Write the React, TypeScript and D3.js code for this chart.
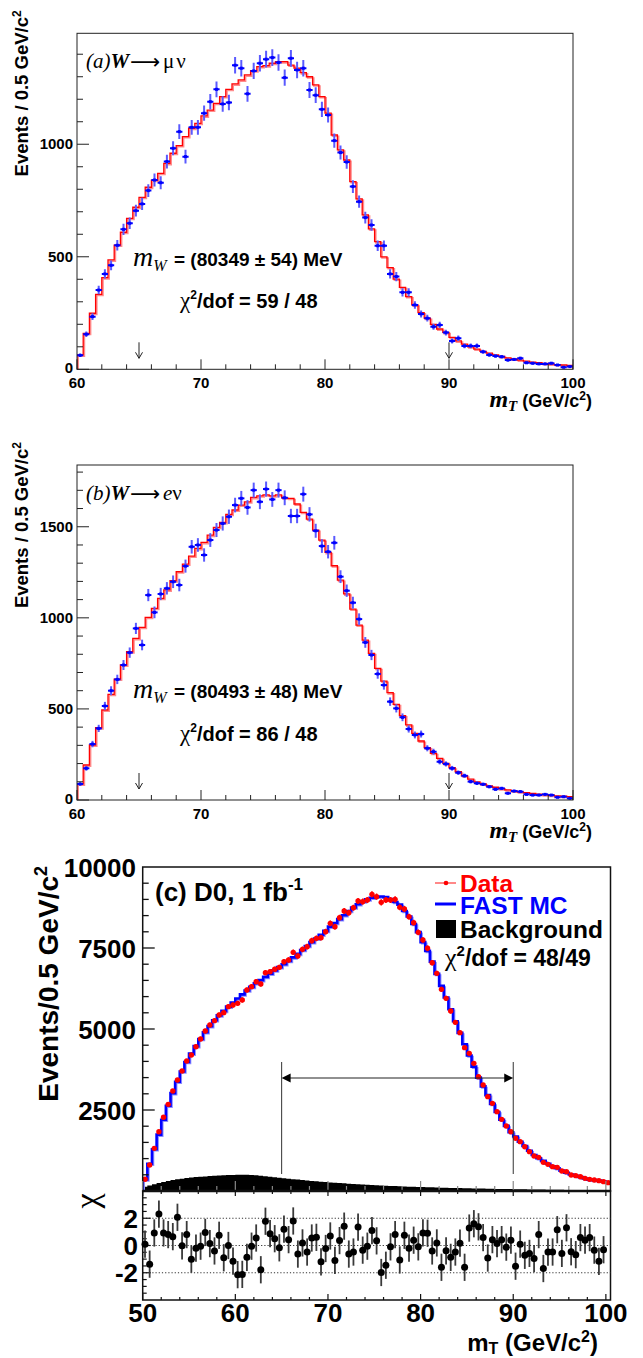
import React from 'react';
import * as d3 from 'd3';

// ---------------- data ----------------
// panels (a),(b): 0.5 GeV bins from 60 to 100
const binStartAB = 60;
const binStartC = 50;
const binWidth = 0.5;

const dataA = [62,156,234,352,424,462,551,622,649,705,
  735,794,841,829,923,982,1056,945,1075,1075,
  1138,1189,1244,1179,1185,1351,1338,1224,1326,1360,
  1378,1385,1363,1296,1382,1330,1338,1241,1218,1155,
  1130,1016,963,921,812,745,674,641,549,549,
  424,412,342,342,286,246,227,189,197,163,
  126,138,104,104,104,78,64,59,56,41,
  44,49,29,27,24,24,27,19,9,12];
const mcA = [64,160,249,333,407,486,552,609,671,720,
  764,809,840,871,915,960,994,1034,1071,1093,
  1126,1152,1182,1212,1244,1268,1286,1308,1327,1345,
  1349,1360,1367,1367,1352,1338,1318,1300,1264,1212,
  1138,1041,975,930,834,757,686,624,567,500,
  452,401,364,323,286,252,227,200,179,164,
  142,126,112,100,90,80,72,64,57,51,
  46,41,36,32,29,26,23,21,19,17];

const dataB = [88,174,307,393,516,600,662,741,809,942,
  851,1125,1030,1131,1162,1198,1180,1284,1390,1400,
  1345,1427,1482,1518,1555,1619,1656,1606,1701,1637,
  1707,1650,1701,1659,1559,1559,1679,1568,1478,1394,
  1363,1412,1226,1149,1083,993,865,796,692,631,
  540,503,454,390,357,362,284,265,210,198,
  174,150,133,101,92,86,73,59,64,37,
  49,46,31,27,27,31,27,15,18,9];
const mcB = [88,192,302,397,494,580,664,741,814,887,
  948,1003,1052,1107,1153,1204,1253,1295,1339,1381,
  1414,1454,1497,1524,1568,1592,1619,1637,1661,1670,
  1675,1670,1675,1659,1656,1625,1579,1542,1482,1427,
  1359,1286,1207,1131,1048,960,878,805,723,653,
  589,525,463,412,366,324,287,256,229,201,
  177,155,133,115,100,88,78,70,62,56,
  50,45,40,36,32,29,26,23,21,19];

// panel (c): 0.5 GeV bins from 50 to 100.5
const dataC = [361,802,1317,1830,2274,2675,3086,3426,3704,4012,
  4198,4454,4691,4938,5123,5257,5432,5504,5690,5741,
  5792,5895,6204,6307,6461,6389,6739,6770,6842,6903,
  7078,7130,7366,7253,7459,7541,7726,7798,7819,8004,
  8261,8158,8436,8642,8591,8745,8951,8930,8981,9156,
  9085,8909,8981,8981,9002,8755,8704,8467,8282,7983,
  7747,7490,7047,6718,6224,5946,5556,5206,4887,4424,
  4249,3940,3529,3272,2912,2706,2449,2212,2006,1831,
  1626,1523,1368,1214,1080,1039,885,823,751,730,
  617,597,494,473,442,391,360,340,319,288,
  257];
const mcC = [360,840,1290,1740,2200,2630,3020,3370,3690,3980,
  4240,4470,4690,4900,5090,5270,5420,5560,5690,
  5820,5940,6070,6190,6300,6410,6510,6610,6710,6810,6910,7000,7100,7210,7320,7440,7560,7680,7790,7910,
  8030,8160,8270,8390,8510,8640,8750,8850,8940,9000,9050,9080,9090,9070,9010,8920,
  8840,8640,8470,8240,7990,7680,7410,7080,6700,6330,5970,5610,5240,
  4880,4530,4180,3840,3500,3230,2960,2690,2440,2200,2010,1815,
  1680,1520,1390,1240,1110,1010,930,840,765,700,630,565,510,470,430,385,352,340,322,295,268];
const bgC = [130,170,210,250,280,310,340,360,380,400,
  415,430,440,450,460,470,478,485,490,495,
  500,500,498,492,484,470,455,440,425,410,
  395,380,366,352,338,325,312,300,288,276,
  265,255,245,236,227,218,210,202,194,186,
  178,171,164,158,152,146,140,135,130,125,
  120,116,112,108,104,100,96,92,89,86,
  83,80,77,74,71,68,65,62,60,58,
  56,54,52,50,48,46,44,42,40,38,
  36,34,32,31,30,29,28,27,26,25,
  24];
const chiC = [0.1,-1.37,0.92,2.31,0.92,0.8,0.65,2.07,-0.02,0.8,
  -1.0,-0.2,-0.05,0.96,0.14,-0.4,0.75,-0.9,0,-1.15,
  -2.14,-2.12,-0.87,-0.05,0.55,-1.78,1.78,0.87,0.5,-0.17,
  1.2,0.43,1.8,-0.63,0.19,-0.48,0.55,0.6,-1.2,-0.22,
  0.7,-1.1,0.36,1.42,-0.63,-0.48,1.35,-0.34,-0.05,1.1,
  0.34,-1.98,-1.45,-0.1,0.8,-1.06,0.75,-0.2,0.39,-0.1,
  0.92,0.9,-0.4,0.19,-1.6,-0.39,-0.87,-0.48,0.17,-1.6,
  1.28,1.6,1.37,0.58,-0.92,0.43,0.14,0.43,-0.12,0.39,
  -1.52,0.1,-0.72,-0.58,-0.96,0.8,-1.69,-0.48,-0.48,1.16,
  -0.58,1.3,-0.46,-0.67,0.58,0.39,0.58,-0.34,-1.16,-0.31];

const xTicksAB = [60, 70, 80, 90, 100];
const yTicksA = [0, 500, 1000];
const yTicksB = [0, 500, 1000, 1500];
const xTicksC = [50, 60, 70, 80, 90, 100];
const yTicksC = [2500, 5000, 7500, 10000];
const yTicksChi = [-2, 0, 2];
const fitWindow = [65, 90];

const SANS = '"Liberation Sans", Arial, Helvetica, sans-serif';
const SERIF = '"Liberation Serif", "Times New Roman", serif';

type Sc = d3.ScaleLinear<number, number>;

function stepPts(vals: number[], lo: number, x: Sc, y: Sc, closeStart: boolean, closeEnd: boolean): [number, number][] {
  const pts: [number, number][] = [];
  if (closeStart) pts.push([x(lo), y(0)]);
  vals.forEach((v, i) => pts.push([x(lo + i * binWidth), y(v)]));
  const hi = lo + vals.length * binWidth;
  pts.push([x(hi), y(vals[vals.length - 1])]);
  if (closeEnd) pts.push([x(hi), y(0)]);
  return pts;
}

const stepLine = d3.line<[number, number]>().curve(d3.curveStepAfter);

function HistPanel(props: {
  id: string; top: number; bottom: number; yMax: number;
  data: number[]; mc: number[]; yTicks: number[]; children?: any;
}) {
  const { id, top, bottom, yMax, data, mc, yTicks } = props;
  const L = 77, R = 573;
  const x = d3.scaleLinear().domain([60, 100]).range([L, R]);
  const y = d3.scaleLinear().domain([0, yMax]).range([bottom, top]);
  const pts = stepPts(mc, binStartAB, x, y, true, true);
  const d = stepLine(pts) || '';
  const xMinor = d3.range(60, 100.001, 2);
  const yMinor = d3.range(0, yMax, 100);
  return (
    <g>
      <defs>
        <clipPath id={id}><rect x={L} y={top} width={R - L} height={bottom - top} /></clipPath>
      </defs>
      <g clipPath={`url(#${id})`}>
        <path d={d} fill="none" stroke="#ff8c8c" strokeWidth={1.6} transform="translate(1.2,1.2)" />
        <path d={d} fill="none" stroke="#ff0000" strokeWidth={1.3} />
        {data.map((v, i) => {
          const c = binStartAB + binWidth * (i + 0.5);
          const e = Math.sqrt(v);
          return (
            <g key={i}>
              <line x1={x(c)} x2={x(c)} y1={y(v - e)} y2={y(v + e)} stroke="#5a5aff" strokeWidth={2} />
              <line x1={x(c - 0.25)} x2={x(c + 0.25)} y1={y(v)} y2={y(v)} stroke="#0000ff" strokeWidth={2} />
              <rect x={x(c) - 1.5} y={y(v) - 1.5} width={3} height={3} fill="#0000ff" />
            </g>
          );
        })}
      </g>
      <rect x={L} y={top} width={R - L} height={bottom - top} fill="none" stroke="#222" strokeWidth={1} />
      {xMinor.map((t) => (
        <line key={'xm' + t} x1={x(t)} x2={x(t)} y1={bottom} y2={bottom - (t % 10 === 0 ? 10 : 5)} stroke="#222" strokeWidth={1} />
      ))}
      {yMinor.map((t) => (
        <line key={'ym' + t} x1={L} x2={L + (t % 500 === 0 ? 12 : 6)} y1={y(t)} y2={y(t)} stroke="#222" strokeWidth={1} />
      ))}
      {xTicksAB.map((t) => (
        <text key={'xl' + t} x={x(t)} y={bottom + 18.5} textAnchor="middle" fontFamily={SANS} fontWeight="bold" fontSize={15}>{t}</text>
      ))}
      {yTicks.map((t) => (
        <text key={'yl' + t} x={L - 4} y={y(t) + (t === 0 ? 3.5 : 5)} textAnchor="end" fontFamily={SANS} fontWeight="bold" fontSize={15}>{t}</text>
      ))}
      {fitWindow.map((t) => (
        <g key={'ar' + t} stroke="#222" strokeWidth={1} fill="none">
          <line x1={x(t)} x2={x(t)} y1={bottom - 27} y2={bottom - 11} />
          <polyline points={`${x(t) - 3.5},${bottom - 17} ${x(t)},${bottom - 11} ${x(t) + 3.5},${bottom - 17}`} />
        </g>
      ))}
      <text transform={`translate(28,${top - 23}) rotate(-90)`} textAnchor="end" fontFamily={SANS} fontWeight="bold" fontSize={18.5}>
        Events / 0.5 GeV/c<tspan fontSize={12} dy={-7}>2</tspan>
      </text>
      <text x={592} y={bottom + 38} textAnchor="end" fontWeight="bold">
        <tspan fontFamily={SERIF} fontStyle="italic" fontSize={24}>m</tspan>
        <tspan fontFamily={SERIF} fontStyle="italic" fontSize={15} dy={4}>T</tspan>
        <tspan fontFamily={SANS} fontSize={18} dy={-4}> (GeV/c</tspan>
        <tspan fontFamily={SANS} fontSize={12} dy={-7}>2</tspan>
        <tspan fontFamily={SANS} fontSize={18} dy={7}>)</tspan>
      </text>
      {props.children}
    </g>
  );
}

function PanelC() {
  const L = 142.7, R = 610.5, T = 867, B = 1191, CB = 1300;
  const x = d3.scaleLinear().domain([50, 100.5]).range([L, R]);
  const y = d3.scaleLinear().domain([0, 10000]).range([B, T]);
  const yc = d3.scaleLinear().domain([-4, 4]).range([CB, B]);
  const mcD = stepLine(stepPts(mcC, binStartC, x, y, true, false)) || '';
  const bgArea = d3.area<number>()
    .x((_, i) => x(binStartC + i * binWidth))
    .y0(y(0))
    .y1((v) => y(v))
    .curve(d3.curveStepAfter);
  const bgD = bgArea([...bgC, bgC[bgC.length - 1]]) || '';
  const xMinor = d3.range(50, 100.001, 2);
  const yMinor = d3.range(0, 10000, 500);
  const chiMinor = d3.range(-3.5, 4, 0.5);
  return (
    <g>
      <defs>
        <clipPath id="clipC"><rect x={L} y={T} width={R - L} height={B - T} /></clipPath>
      </defs>
      <g clipPath="url(#clipC)">
        <path d={bgD} fill="#000" />
        <path d={mcD} fill="none" stroke="#8c8cff" strokeWidth={2} transform="translate(1.3,1.3)" />
        <path d={mcD} fill="none" stroke="#0000ff" strokeWidth={2.6} />
        {dataC.map((v, i) => {
          const c = binStartC + binWidth * (i + 0.5);
          const e = Math.sqrt(v);
          return (
            <g key={i}>
              <line x1={x(c)} x2={x(c)} y1={y(v - e)} y2={y(v + e)} stroke="#ff0000" strokeWidth={1.5} />
              <circle cx={x(c)} cy={y(v)} r={2.7} fill="#ff0000" />
            </g>
          );
        })}
      </g>
      {/* fit window */}
      {fitWindow.map((t) => (
        <line key={'fw' + t} x1={x(t)} x2={x(t)} y1={1062} y2={1174} stroke="#333" strokeWidth={1} />
      ))}
      <line x1={x(fitWindow[0]) + 8} x2={x(fitWindow[1]) - 8} y1={1078} y2={1078} stroke="#222" strokeWidth={1.2} />
      <polygon points={`${x(fitWindow[0])},1078 ${x(fitWindow[0]) + 9},1073.5 ${x(fitWindow[0]) + 9},1082.5`} fill="#000" />
      <polygon points={`${x(fitWindow[1])},1078 ${x(fitWindow[1]) - 9},1073.5 ${x(fitWindow[1]) - 9},1082.5`} fill="#000" />

      {/* main frame */}
      <rect x={L} y={T} width={R - L} height={B - T} fill="none" stroke="#111" strokeWidth={1.5} />
      {yMinor.map((t) => (
        <line key={'cym' + t} x1={L} x2={L + (t % 2500 === 0 ? 12 : 6)} y1={y(t)} y2={y(t)} stroke="#111" strokeWidth={1.3} />
      ))}
      {xMinor.map((t) => (
        <line key={'cxm' + t} x1={x(t)} x2={x(t)} y1={B} y2={B - (t % 10 === 0 ? 10 : 5)} stroke="#888" strokeWidth={1.2} />
      ))}
      {yTicksC.map((t) => (
        <text key={'cyl' + t} x={136} y={y(t) + 9.5} textAnchor="end" fontFamily={SANS} fontWeight="bold" fontSize={26}>{t}</text>
      ))}
      <text transform="translate(58,866) rotate(-90)" textAnchor="end" fontFamily={SANS} fontWeight="bold" fontSize={28}>
        Events/0.5 GeV/c<tspan fontSize={18} dy={-11}>2</tspan>
      </text>

      {/* chi pad */}
      <rect x={L} y={B} width={R - L} height={CB - B} fill="none" stroke="#111" strokeWidth={1.5} />
      <line x1={L} x2={R} y1={B} y2={B} stroke="#111" strokeWidth={2.5} />
      {yTicksChi.map((t) => (
        <line key={'dot' + t} x1={L} x2={R} y1={yc(t)} y2={yc(t)} stroke="#333" strokeWidth={1} strokeDasharray="1.2,2" />
      ))}
      {chiMinor.map((t) => (
        <line key={'chm' + t} x1={L} x2={L + (Math.abs(t % 2) < 1e-9 ? 8 : 4)} y1={yc(t)} y2={yc(t)} stroke="#111" strokeWidth={1.2} />
      ))}
      {xMinor.map((t) => (
        <g key={'chx' + t}>
          <line x1={x(t)} x2={x(t)} y1={CB} y2={CB - (t % 10 === 0 ? 6 : 3)} stroke="#111" strokeWidth={1.2} />
          <line x1={x(t)} x2={x(t)} y1={B} y2={B + (t % 10 === 0 ? 5 : 3)} stroke="#111" strokeWidth={1.2} />
        </g>
      ))}
      {chiC.map((v, i) => {
        const c = binStartC + binWidth * (i + 0.5);
        return (
          <g key={'chi' + i}>
            <line x1={x(c)} x2={x(c)} y1={yc(v - 1)} y2={yc(v + 1)} stroke="#3a3a3a" strokeWidth={1.8} />
            <circle cx={x(c)} cy={yc(v)} r={3.5} fill="#000" />
          </g>
        );
      })}
      {yTicksChi.map((t) => (
        <text key={'chl' + t} x={138} y={yc(t) + 9.5} textAnchor="end" fontFamily={SANS} fontWeight="bold" fontSize={26}>{t}</text>
      ))}
      <text transform="translate(98,1201) rotate(-90)" textAnchor="middle" fontFamily={SERIF} fontSize={34}>χ</text>
      {xTicksC.map((t) => (
        <text key={'cxl' + t} x={x(t)} y={1322} textAnchor="middle" fontFamily={SANS} fontWeight="bold" fontSize={26}>{t}</text>
      ))}
      <text x={598} y={1351} textAnchor="end" fontFamily={SANS} fontWeight="bold" fontSize={24}>
        m<tspan fontSize={16} dy={3}>T</tspan><tspan dy={-3}> (GeV/c</tspan><tspan fontSize={16} dy={-9}>2</tspan><tspan dy={9}>)</tspan>
      </text>

      {/* annotations */}
      <text x={155} y={901} fontFamily={SANS} fontWeight="bold" fontSize={26}>
        (c) D0, 1 fb<tspan fontSize={17} dy={-11}>-1</tspan>
      </text>
      <line x1={435} x2={456} y1={883} y2={883} stroke="#ff6060" strokeWidth={1.5} />
      <circle cx={446} cy={883} r={2.3} fill="#ff0000" />
      <text x={460} y={891.5} fontFamily={SANS} fontWeight="bold" fontSize={24.5} fill="#ff0000">Data</text>
      <line x1={435} x2={456} y1={904} y2={904} stroke="#0000ff" strokeWidth={3} />
      <text x={460} y={913.5} fontFamily={SANS} fontWeight="bold" fontSize={24.5} fill="#0000ff">FAST MC</text>
      <rect x={436} y={920} width={20} height={18} fill="#000" />
      <text x={460} y={937.5} fontFamily={SANS} fontWeight="bold" fontSize={24.5} fill="#000">Background</text>
      <text x={445} y={966} fontFamily={SANS} fontWeight="bold" fontSize={23}>
        <tspan fontFamily={SERIF} fontWeight="normal" fontSize={26}>χ</tspan>
        <tspan fontSize={15} dy={-10}>2</tspan>
        <tspan dy={10}>/dof = 48/49</tspan>
      </text>
    </g>
  );
}

export default function App() {
  return (
    <svg width={643} height={1358} viewBox="0 0 643 1358" style={{ position: 'absolute', left: 0, top: 0, background: '#fff' }}>
      <rect x={0} y={0} width={643} height={1358} fill="#fff" />
      <HistPanel id="clipA" top={33.3} bottom={369.3} yMax={1493} data={dataA} mc={mcA} yTicks={yTicksA}>
        <text x={86} y={68} fontFamily={SERIF} fontSize={21}>
          <tspan fontStyle="italic">(a)</tspan>
          <tspan fontStyle="italic" fontWeight="bold">W</tspan>
          <tspan x={130} dy={1} fontFamily={'"DejaVu Sans", sans-serif'} fontSize={21}>⟶</tspan>
          <tspan x={163} dy={-1} letterSpacing={2}>μν</tspan>
        </text>
        <text x={133} y={266} fontFamily={SANS} fontWeight="bold" fontSize={19}>
          <tspan fontFamily={SERIF} fontStyle="italic" fontWeight="normal" fontSize={28}>m</tspan>
          <tspan fontFamily={SERIF} fontStyle="italic" fontWeight="normal" fontSize={16} dy={5}>W</tspan>
          <tspan dy={-5} x={174}>= (80349 ± 54) MeV</tspan>
        </text>
        <text x={180} y={308} fontFamily={SANS} fontWeight="bold" fontSize={20}>
          <tspan fontFamily={SERIF} fontWeight="normal" fontSize={23}>χ</tspan>
          <tspan fontSize={12} dy={-9}>2</tspan>
          <tspan dy={9}>/dof = 59 / 48</tspan>
        </text>
      </HistPanel>
      <HistPanel id="clipB" top={465} bottom={800} yMax={1839} data={dataB} mc={mcB} yTicks={yTicksB}>
        <text x={86} y={500} fontFamily={SERIF} fontSize={21}>
          <tspan fontStyle="italic">(b)</tspan>
          <tspan fontStyle="italic" fontWeight="bold">W</tspan>
          <tspan x={130} dy={1} fontFamily={'"DejaVu Sans", sans-serif'} fontSize={21}>⟶</tspan>
          <tspan x={163} dy={-1} fontStyle="italic">e</tspan>
          <tspan>ν</tspan>
        </text>
        <text x={133} y={698} fontFamily={SANS} fontWeight="bold" fontSize={19}>
          <tspan fontFamily={SERIF} fontStyle="italic" fontWeight="normal" fontSize={28}>m</tspan>
          <tspan fontFamily={SERIF} fontStyle="italic" fontWeight="normal" fontSize={16} dy={5}>W</tspan>
          <tspan dy={-5} x={174}>= (80493 ± 48) MeV</tspan>
        </text>
        <text x={180} y={741} fontFamily={SANS} fontWeight="bold" fontSize={20}>
          <tspan fontFamily={SERIF} fontWeight="normal" fontSize={23}>χ</tspan>
          <tspan fontSize={12} dy={-9}>2</tspan>
          <tspan dy={9}>/dof = 86 / 48</tspan>
        </text>
      </HistPanel>
      <PanelC />
    </svg>
  );
}
